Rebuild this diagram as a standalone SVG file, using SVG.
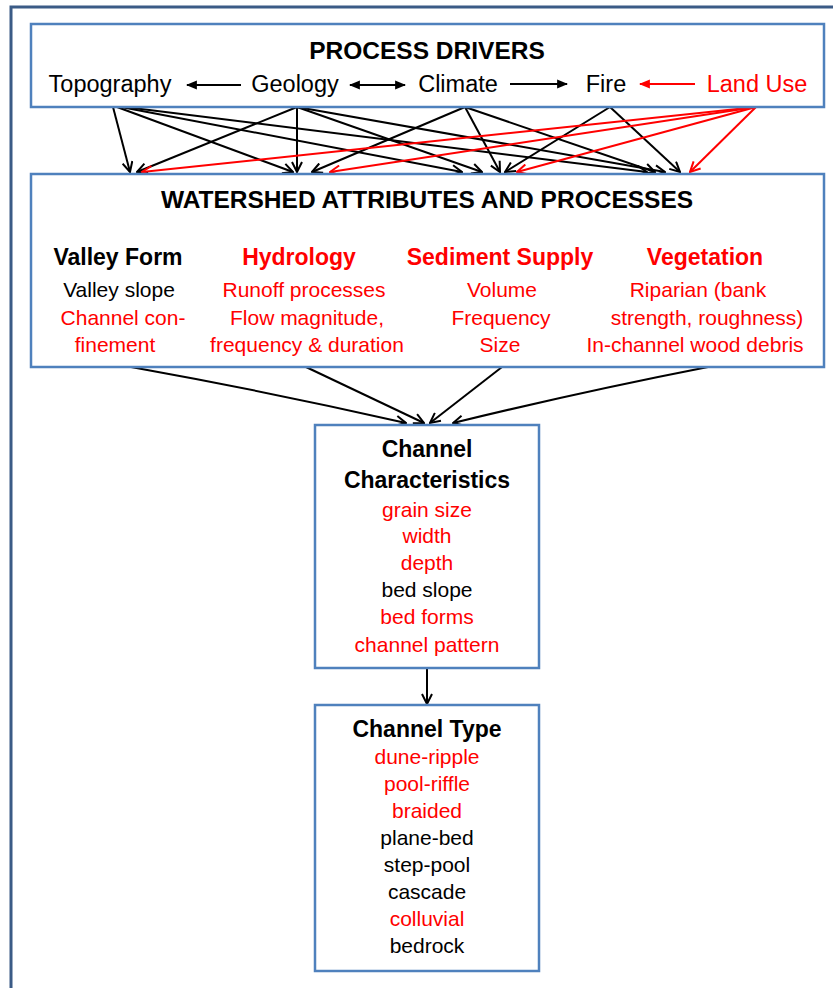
<svg xmlns="http://www.w3.org/2000/svg" width="833" height="988" viewBox="0 0 833 988">
<style>
  text { font-family: "Liberation Sans", Arial, sans-serif; text-anchor: middle; }
  .box { fill: #ffffff; stroke: #4f81bd; stroke-width: 2.5; }
  .frame { fill: none; stroke: #3b5b86; stroke-width: 3; }
  .h1 { font-size: 24.5px; font-weight: bold; fill: #000; }
  .drv { font-size: 23.5px; fill: #000; }
  .hd { font-size: 23px; font-weight: bold; }
  .sub { font-size: 21px; }
  .bk { fill: #000; }
  .rd { fill: #ff0000; }
  .cb { stroke: #000; stroke-width: 2; fill: none; marker-end: url(#openK); }
  .cr { stroke: #ff0000; stroke-width: 2; fill: none; marker-end: url(#openR); }
  .sk { stroke: #000; stroke-width: 2; fill: none; }
  .sr { stroke: #ff0000; stroke-width: 2; fill: none; }
</style>
<defs>
  <marker id="openK" viewBox="0 0 12 12" refX="11" refY="6" markerWidth="12" markerHeight="12" markerUnits="userSpaceOnUse" orient="auto">
    <path d="M1,1 L11,6 L1,11" fill="none" stroke="#000" stroke-width="2"/>
  </marker>
  <marker id="openR" viewBox="0 0 12 12" refX="11" refY="6" markerWidth="12" markerHeight="12" markerUnits="userSpaceOnUse" orient="auto">
    <path d="M1,1 L11,6 L1,11" fill="none" stroke="#ff0000" stroke-width="2"/>
  </marker>
  <marker id="fillK" viewBox="0 0 10 10" refX="9" refY="5" markerWidth="11" markerHeight="11" markerUnits="userSpaceOnUse" orient="auto-start-reverse">
    <path d="M0,1 L10,5 L0,9 Z" fill="#000"/>
  </marker>
  <marker id="fillR" viewBox="0 0 10 10" refX="9" refY="5" markerWidth="11" markerHeight="11" markerUnits="userSpaceOnUse" orient="auto-start-reverse">
    <path d="M0,1 L10,5 L0,9 Z" fill="#ff0000"/>
  </marker>
</defs>

<rect width="833" height="988" fill="#ffffff"/>
<path class="frame" d="M11,988 L11,7 L833,7"/>

<g id="connectors">
  <!-- Topography -->
  <line class="cb" x1="113" y1="107" x2="130" y2="172"/>
  <line class="cb" x1="117" y1="107" x2="293" y2="172"/>
  <line class="cb" x1="121" y1="107" x2="462" y2="172"/>
  <line class="cb" x1="125" y1="107" x2="647" y2="172"/>
  <!-- Geology -->
  <line class="cb" x1="297" y1="107" x2="137" y2="172"/>
  <line class="cb" x1="297" y1="107" x2="297" y2="172"/>
  <line class="cb" x1="297" y1="107" x2="482" y2="172"/>
  <line class="cb" x1="297" y1="107" x2="665" y2="172"/>
  <!-- Climate -->
  <line class="cb" x1="465" y1="107" x2="312" y2="172"/>
  <line class="cb" x1="465" y1="107" x2="500" y2="172"/>
  <line class="cb" x1="465" y1="107" x2="655" y2="172"/>
  <!-- Fire -->
  <line class="cb" x1="610" y1="107" x2="505" y2="172"/>
  <line class="cb" x1="610" y1="107" x2="680" y2="172"/>
  <!-- Land Use -->
  <line class="cr" x1="756" y1="107" x2="142" y2="172"/>
  <line class="cr" x1="756" y1="107" x2="330" y2="172"/>
  <line class="cr" x1="756" y1="107" x2="517" y2="172"/>
  <line class="cr" x1="756" y1="107" x2="690" y2="172"/>
  <!-- Watershed to Channel Characteristics -->
  <path class="cb" d="M131,367 Q270,392 406,423"/>
  <line class="cb" x1="306" y1="367" x2="424" y2="423"/>
  <line class="cb" x1="502" y1="367" x2="430" y2="423"/>
  <path class="cb" d="M708,367 Q580,392 453,423"/>
  <!-- Characteristics to Type -->
  <line class="cb" x1="427" y1="668" x2="427" y2="704"/>
</g>

<g id="process-drivers">
  <rect class="box" x="31" y="24" width="793" height="83"/>
  <text class="h1" x="427" y="59">PROCESS DRIVERS</text>
  <g id="driver-arrows">
    <line class="sk" x1="241" y1="85" x2="187" y2="85" marker-end="url(#fillK)"/>
    <line class="sk" x1="350" y1="85" x2="405" y2="85" marker-start="url(#fillK)" marker-end="url(#fillK)"/>
    <line class="sk" x1="510" y1="84" x2="567" y2="84" marker-end="url(#fillK)"/>
    <line class="sr" x1="695" y1="84" x2="640" y2="84" marker-end="url(#fillR)"/>
  </g>
  <text id="topography" class="drv" x="110" y="92">Topography</text>
  <text id="geology" class="drv" x="295" y="92">Geology</text>
  <text id="climate" class="drv" x="458" y="92">Climate</text>
  <text id="fire" class="drv" x="606" y="92">Fire</text>
  <text id="land-use" class="drv rd" x="757" y="92">Land Use</text>
</g>

<g id="watershed">
  <rect class="box" x="31" y="174" width="793" height="193"/>
  <text class="h1" x="427" y="208">WATERSHED ATTRIBUTES AND PROCESSES</text>
  <g id="valley-form">
    <text class="hd bk" x="118" y="265">Valley Form</text>
    <text class="sub bk" x="119" y="297">Valley slope</text>
    <text class="sub rd" x="123" y="325">Channel con-</text>
    <text class="sub rd" x="115" y="352">finement</text>
  </g>
  <g id="hydrology">
    <text class="hd rd" x="299" y="265">Hydrology</text>
    <text class="sub rd" x="304" y="297">Runoff processes</text>
    <text class="sub rd" x="307" y="325">Flow magnitude,</text>
    <text class="sub rd" x="307" y="352">frequency &amp; duration</text>
  </g>
  <g id="sediment-supply">
    <text class="hd rd" x="500" y="265">Sediment Supply</text>
    <text class="sub rd" x="502" y="297">Volume</text>
    <text class="sub rd" x="501" y="325">Frequency</text>
    <text class="sub rd" x="500" y="352">Size</text>
  </g>
  <g id="vegetation">
    <text class="hd rd" x="705" y="265">Vegetation</text>
    <text class="sub rd" x="698" y="297">Riparian (bank</text>
    <text class="sub rd" x="707" y="325">strength, roughness)</text>
    <text class="sub rd" x="695" y="352">In-channel wood debris</text>
  </g>
</g>

<g id="channel-characteristics">
  <rect class="box" x="315" y="425" width="224" height="243"/>
  <text class="hd bk" x="427" y="457">Channel</text>
  <text class="hd bk" x="427" y="488">Characteristics</text>
  <text class="sub rd" x="427" y="517">grain size</text>
  <text class="sub rd" x="427" y="543">width</text>
  <text class="sub rd" x="427" y="570">depth</text>
  <text class="sub bk" x="427" y="597">bed slope</text>
  <text class="sub rd" x="427" y="624">bed forms</text>
  <text class="sub rd" x="427" y="652">channel pattern</text>
</g>

<g id="channel-type">
  <rect class="box" x="315" y="705" width="224" height="266"/>
  <text class="hd bk" x="427" y="737">Channel Type</text>
  <text class="sub rd" x="427" y="764">dune-ripple</text>
  <text class="sub rd" x="427" y="791">pool-riffle</text>
  <text class="sub rd" x="427" y="818">braided</text>
  <text class="sub bk" x="427" y="845">plane-bed</text>
  <text class="sub bk" x="427" y="872">step-pool</text>
  <text class="sub bk" x="427" y="899">cascade</text>
  <text class="sub rd" x="427" y="926">colluvial</text>
  <text class="sub bk" x="427" y="953">bedrock</text>
</g>
</svg>
